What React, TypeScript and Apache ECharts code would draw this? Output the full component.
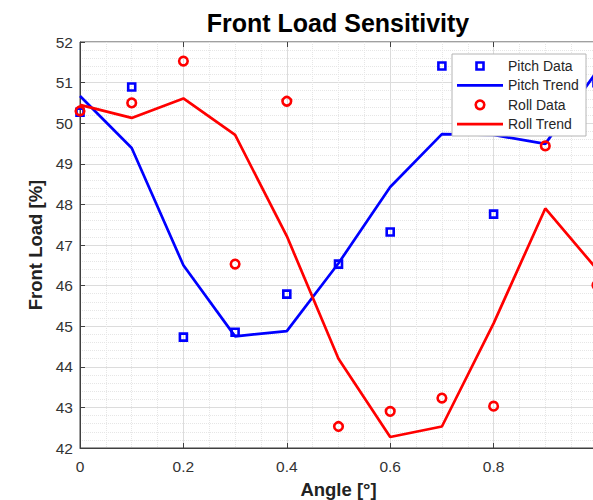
import React, { useEffect, useRef } from 'react';
import * as echarts from 'echarts';

// ---- data ----
const angles = [0, 0.1, 0.2, 0.3, 0.4, 0.5, 0.6, 0.7, 0.8, 0.9, 1.0];
const pitchData = [50.27, 50.89, 44.73, 44.85, 45.79, 46.53, 47.32, 51.41, 47.76, 50.4, 51.0];
const pitchTrend = [50.67, 49.39, 46.5, 44.75, 44.88, 46.55, 48.43, 49.73, 49.71, 49.49, 51.28];
const rollData = [50.3, 50.5, 51.53, 46.53, 50.54, 42.53, 42.9, 43.23, 43.03, 49.44, 46.01];
const rollTrend = [50.45, 50.13, 50.61, 49.71, 47.22, 44.2, 42.27, 42.53, 45.07, 47.9, 46.4];
const seriesNames = ['Pitch Data', 'Pitch Trend', 'Roll Data', 'Roll Trend'];
const xRange = { min: 0, max: 1, interval: 0.2 };
const yRange = { min: 42, max: 52, interval: 1 };
const titleText = 'Front Load Sensitivity';
const xLabel = 'Angle [°]';
const yLabel = 'Front Load [%]';

const FONT = '"Liberation Sans", Arial, Helvetica, sans-serif';
const BLUE = '#0000ff';
const RED = '#ff0000';

function pairs(ys: number[]) {
  return angles.map((x, i) => [x, ys[i]]);
}

export default function App() {
  const ref = useRef<HTMLDivElement>(null);
  useEffect(() => {
    if (!ref.current) return;
    const chart = echarts.init(ref.current, undefined, { renderer: 'svg' });

    const gridLeft = 80;
    const gridTop = 42;
    const legendX = 452;
    const legendY = 54;
    const rowH = 19.4;
    const sampleCx = 480;
    const legendGraphics: any[] = [
      {
        type: 'rect',
        shape: { x: legendX, y: legendY, width: 134, height: 82 },
        style: { fill: '#ffffff', stroke: '#b4b4b4', lineWidth: 1 },
        z: 100,
      },
    ];
    seriesNames.forEach((name, i) => {
      const cy = legendY + 12 + i * rowH;
      const color = i < 2 ? BLUE : RED;
      if (i === 0) {
        legendGraphics.push({
          type: 'rect',
          shape: { x: sampleCx - 3.5, y: cy - 3.5, width: 7, height: 7 },
          style: { fill: 'none', stroke: color, lineWidth: 2.6 },
          z: 101,
        });
      } else if (i === 2) {
        legendGraphics.push({
          type: 'circle',
          shape: { cx: sampleCx, cy, r: 4.3 },
          style: { fill: 'none', stroke: color, lineWidth: 2.6 },
          z: 101,
        });
      } else {
        legendGraphics.push({
          type: 'line',
          shape: { x1: 457, y1: cy, x2: 503, y2: cy },
          style: { stroke: color, lineWidth: 2.7 },
          z: 101,
        });
      }
      legendGraphics.push({
        type: 'text',
        x: 508,
        y: cy,
        style: {
          text: name,
          font: `14px ${FONT}`,
          fill: '#262626',
          verticalAlign: 'middle',
          align: 'left',
        },
        z: 101,
      });
    });

    const axisCommon = {
      axisLine: { show: true, lineStyle: { color: '#404040', width: 1 } },
      axisTick: { show: true, inside: true, length: 5, lineStyle: { color: '#404040' } },
      splitLine: { show: true, lineStyle: { color: '#dcdcdc', width: 1 } },
      minorSplitLine: { show: true, lineStyle: { color: '#e6e6e6', width: 1, type: 'dotted' } },
    };

    chart.setOption({
      animation: false,
      backgroundColor: '#ffffff',
      textStyle: { fontFamily: FONT },
      title: {
        text: titleText,
        left: 338,
        top: 10,
        textAlign: 'center',
        padding: 0,
        textStyle: { fontFamily: FONT, fontSize: 25, fontWeight: 'bold', color: '#000000' },
      },
      grid: {
        left: gridLeft,
        top: gridTop,
        right: 3,
        bottom: 52,
        show: true,
        borderColor: '#404040',
        borderWidth: 1,
        backgroundColor: '#ffffff',
        containLabel: false,
        outerBoundsMode: 'none',
      },
      xAxis: [
        {
          type: 'value',
          position: 'bottom',
          ...xRange,
          ...axisCommon,
          minorTick: { show: false, splitNumber: 4 },
          axisLabel: { color: '#333333', fontSize: 15.5, margin: 10, fontFamily: FONT },
          name: xLabel,
          nameLocation: 'middle',
          nameGap: 32,
          nameTextStyle: { fontSize: 18.5, fontWeight: 'bold', color: '#222222', fontFamily: FONT },
        },
        {
          type: 'value',
          position: 'top',
          ...xRange,
          axisLine: { show: false },
          axisTick: { show: true, inside: true, length: 5, lineStyle: { color: '#404040' } },
          axisLabel: { show: false },
          splitLine: { show: false },
        },
      ],
      yAxis: [
        {
          type: 'value',
          ...yRange,
          ...axisCommon,
          minorTick: { show: false, splitNumber: 5 },
          axisLabel: { color: '#333333', fontSize: 15.5, margin: 7, fontFamily: FONT },
          name: yLabel,
          nameLocation: 'middle',
          nameGap: 27,
          nameRotate: 90,
          nameTextStyle: { fontSize: 18.5, fontWeight: 'bold', color: '#222222', fontFamily: FONT },
        },
      ],
      graphic: legendGraphics,
      series: [
        {
          name: seriesNames[0],
          type: 'scatter',
          xAxisIndex: 0,
          data: pairs(pitchData),
          symbol: 'rect',
          symbolSize: 7,
          itemStyle: { color: 'rgba(0,0,0,0)', borderColor: BLUE, borderWidth: 2.6, opacity: 1 },
          z: 2,
        },
        {
          name: seriesNames[1],
          type: 'line',
          xAxisIndex: 0,
          data: pairs(pitchTrend),
          symbol: 'none',
          lineStyle: { color: BLUE, width: 2.7 },
          itemStyle: { color: BLUE },
          z: 3,
        },
        {
          name: seriesNames[2],
          type: 'scatter',
          xAxisIndex: 0,
          data: pairs(rollData),
          symbol: 'circle',
          symbolSize: 8.6,
          itemStyle: { color: 'rgba(0,0,0,0)', borderColor: RED, borderWidth: 2.6, opacity: 1 },
          z: 4,
        },
        {
          name: seriesNames[3],
          type: 'line',
          xAxisIndex: 0,
          data: pairs(rollTrend),
          symbol: 'none',
          lineStyle: { color: RED, width: 2.7 },
          itemStyle: { color: RED },
          z: 5,
        },
      ],
    });
    return () => chart.dispose();
  }, []);

  return (
    <div
      style={{
        position: 'fixed',
        left: 0,
        top: 0,
        width: 593,
        height: 500,
        overflow: 'hidden',
        background: '#ffffff',
      }}
    >
      <div ref={ref} style={{ width: 600, height: 500 }} />
    </div>
  );
}
